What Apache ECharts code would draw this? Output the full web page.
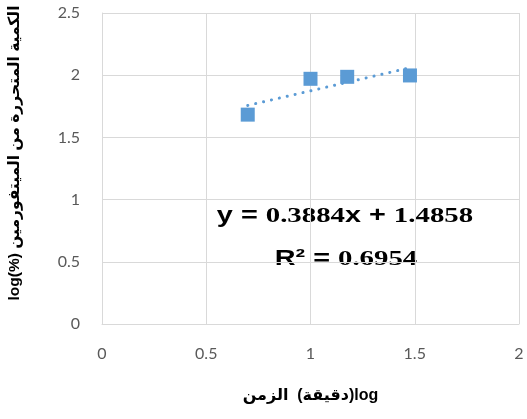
<!DOCTYPE html>
<html><head><meta charset="utf-8">
<script src="https://cdn.jsdelivr.net/npm/echarts@6/dist/echarts.min.js"></script>
<style>html,body{margin:0;padding:0;background:#fff}#c{width:527px;height:419px}</style>
</head><body><div id="c"></div>
<script>
const xValues = [0.699, 1.0, 1.176, 1.477];
const yValues = [1.683, 1.971, 1.987, 1.998];
const trendX = [0.699, 1.477];
const trendY = [1.757, 2.060];
const xTicks = [0, 0.5, 1, 1.5, 2];
const yTicks = [0, 0.5, 1, 1.5, 2, 2.5];
const eqParts = ['y = ', '0.3884', 'x + ', '1.4858'];
const r2Parts = ['R² = ', '0.6954'];
const xTitle = 'الزمن\u200E  (\u200Eدقيقة\u200E)log';
const yTitle = 'log(%) الكمية المتحررة من الميتفورمين';

const rich = {
  s: {fontFamily: 'Liberation Sans', fontWeight: 'bold', fontSize: 22, fill: '#000'},
  n: {fontFamily: 'Liberation Serif', fontWeight: 'bold', fontSize: 22, fill: '#000'}
};

const chart = echarts.init(document.getElementById('c'));
chart.setOption({
  animation: false,
  backgroundColor: '#fff',
  grid: {left: 102, right: 8, top: 13, bottom: 95, outerBoundsMode: 'none', containLabel: false},
  xAxis: {
    type: 'value', min: xTicks[0], max: xTicks[xTicks.length-1], interval: 0.5,
    axisLine: {show: true, lineStyle: {color: '#d9d9d9'}},
    axisTick: {show: false},
    splitLine: {show: true, lineStyle: {color: '#d9d9d9', width: 1}},
    axisLabel: {color: '#595959', fontSize: 16, fontFamily: 'Lato', margin: 22},
    name: xTitle,
    nameLocation: 'middle', nameGap: 64,
    nameTextStyle: {fontSize: 16, fontWeight: 'bold', color: '#000', fontFamily: 'Liberation Sans, DejaVu Sans'}
  },
  yAxis: {
    type: 'value', min: yTicks[0], max: yTicks[yTicks.length-1], interval: 0.5,
    axisLine: {show: true, lineStyle: {color: '#d9d9d9'}},
    axisTick: {show: false},
    splitLine: {show: true, lineStyle: {color: '#d9d9d9', width: 1}},
    axisLabel: {color: '#595959', fontSize: 16, fontFamily: 'Lato', margin: 22}
  },
  series: [
    {
      type: 'line', data: trendX.map((x, i) => [x, trendY[i]]),
      showSymbol: false, symbol: 'none',
      lineStyle: {color: '#5B9BD5', width: 3, type: [0.1, 8], cap: 'round'},
      z: 2
    },
    {
      type: 'scatter', data: xValues.map((x, i) => [x, yValues[i]]),
      symbol: 'rect', symbolSize: 14,
      itemStyle: {color: '#5B9BD5', opacity: 1},
      z: 3
    }
  ],
  graphic: [
    {type: 'text', x: 15, y: 153, rotation: Math.PI / 2, style: {
      text: yTitle, align: 'center', verticalAlign: 'middle',
      font: 'bold 15.5px "Liberation Sans", "DejaVu Sans"', fill: '#000'
    }},
    {type: 'text', x: 345, y: 216, scaleX: 1.31, style: {
      text: '{s|' + eqParts[0] + '}{n|' + eqParts[1] + '}{s|' + eqParts[2] + '}{n|' + eqParts[3] + '}',
      align: 'center', verticalAlign: 'middle', rich: rich
    }},
    {type: 'text', x: 346, y: 259, scaleX: 1.31, style: {
      text: '{s|' + r2Parts[0] + '}{n|' + r2Parts[1] + '}',
      align: 'center', verticalAlign: 'middle', rich: rich
    }}
  ]
});
</script></body></html>
